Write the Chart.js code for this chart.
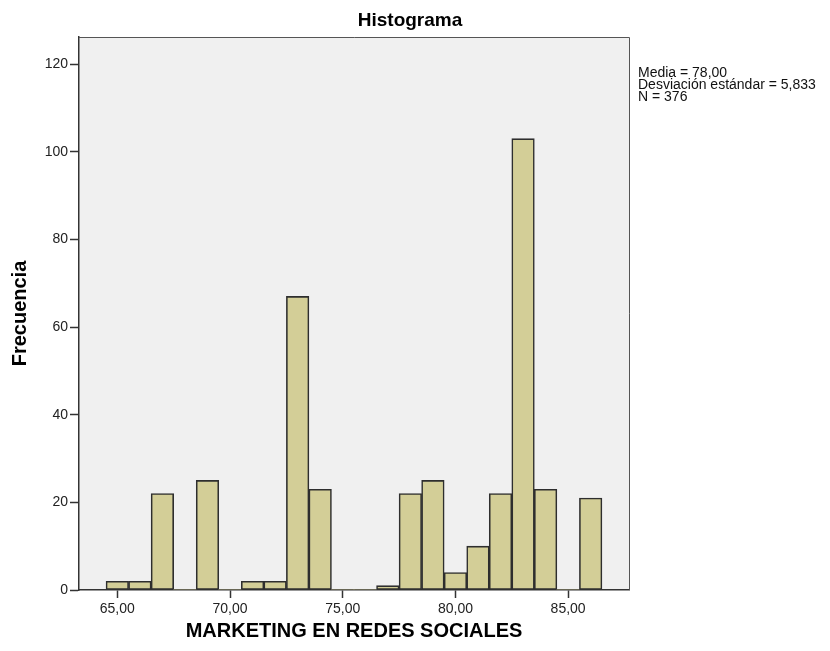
<!DOCTYPE html>
<html>
<head>
<meta charset="utf-8">
<script src="https://cdn.jsdelivr.net/npm/chart.js@4.4.1/dist/chart.umd.min.js"></script>
<style>
  body { margin: 0; background: #fff; }
  canvas { display: block; }
</style>
</head>
<body>
<canvas id="histChart" width="830" height="651"></canvas>
<script>
// bins (centre of each 1-point bin) and frequencies
var bins = [65, 66, 67, 68, 69, 70, 71, 72, 73, 74, 75, 76, 77, 78, 79, 80, 81, 82, 83, 84, 85, 86];
var counts = [2, 2, 22, 0, 25, 0, 2, 2, 67, 23, 0, 0, 1, 22, 25, 4, 10, 22, 103, 23, 0, 21];
var xTicks = [65, 70, 75, 80, 85];
var yTicks = [0, 20, 40, 60, 80, 100, 120];
var statsLines = ["Media = 78,00", "Desviación estándar = 5,833", "N = 376"];

var points = bins.map(function (b, i) { return { x: b, y: counts[i] }; });

var frame = {
    id: 'frame',
    beforeDraw: function (chart) {
        var a = chart.chartArea, ctx = chart.ctx;
        ctx.save();
        ctx.fillStyle = '#f0f0f0';
        ctx.fillRect(a.left, a.top, a.right - a.left, a.bottom - a.top);
        ctx.restore();
    },
    afterDraw: function (chart) {
        var a = chart.chartArea, ctx = chart.ctx;
        ctx.save();
        ctx.strokeStyle = '#555';
        ctx.lineWidth = 1;
        ctx.beginPath();
        ctx.moveTo(a.left, a.top + 0.5);
        ctx.lineTo(a.right + 0.5, a.top + 0.5);
        ctx.lineTo(a.right + 0.5, a.bottom);
        ctx.stroke();
        // title
        ctx.fillStyle = '#000';
        ctx.font = 'bold 19px "Liberation Sans", Arial, sans-serif';
        ctx.textAlign = 'center';
        ctx.textBaseline = 'alphabetic';
        ctx.fillText('Histograma', 410, 26);
        // stats box on the right
        ctx.font = '14px "Liberation Sans", Arial, sans-serif';
        ctx.textAlign = 'left';
        ctx.fillStyle = '#111';
        statsLines.forEach(function (t, i) {
            ctx.fillText(t, 638, 77 + i * 12);
        });
        ctx.restore();
    }
};

var ctx = document.getElementById("histChart").getContext("2d");
var histChart = new Chart(ctx, {
    type: 'bar',
    data: {
        datasets: [{
            data: points,
            backgroundColor: '#d3ce97',
            borderColor: '#2e2e2e',
            borderWidth: function (c) { return c.raw && c.raw.y > 0 ? 1.6 : 0; },
            borderSkipped: false,
            barPercentage: 1,
            categoryPercentage: 1
        }]
    },
    options: {
        responsive: false,
        animation: false,
        devicePixelRatio: 1,
        layout: {
            padding: { top: 37, right: 201, left: 0, bottom: 0 }
        },
        plugins: {
            legend: { display: false },
            title: { display: false },
            tooltip: { enabled: false }
        },
        scales: {
            x: {
                type: 'linear',
                min: 63.3,
                max: 87.7,
                offset: false,
                afterBuildTicks: function (s) { s.ticks = xTicks.map(function (v) { return { value: v }; }); },
                afterFit: function (s) { s.height = 61; },
                ticks: {
                    color: '#222',
                    font: { family: '"Liberation Sans", Arial, sans-serif', size: 14 },
                    padding: 3,
                    maxRotation: 0,
                    callback: function (v) { return v.toFixed(2).replace('.', ','); }
                },
                grid: { offset: false, drawOnChartArea: false, drawTicks: true, tickLength: 8, color: '#333', tickWidth: 1.5 },
                border: { display: true, color: '#333', width: 1.5 },
                title: {
                    display: true,
                    text: 'MARKETING EN REDES SOCIALES',
                    color: '#000',
                    font: { family: '"Liberation Sans", Arial, sans-serif', size: 20, weight: 'bold' },
                    padding: { top: 0, bottom: 8 }
                }
            },
            y: {
                min: 0,
                max: 126.2,
                afterBuildTicks: function (s) { s.ticks = yTicks.map(function (v) { return { value: v }; }); },
                afterFit: function (s) { s.width = 79; },
                ticks: {
                    color: '#222',
                    font: { family: '"Liberation Sans", Arial, sans-serif', size: 14 },
                    padding: 2
                },
                grid: { drawOnChartArea: false, drawTicks: true, tickLength: 9, color: '#333', tickWidth: 1.5 },
                border: { display: true, color: '#333', width: 1.5 },
                title: {
                    display: true,
                    text: 'Frecuencia',
                    color: '#000',
                    font: { family: '"Liberation Sans", Arial, sans-serif', size: 20, weight: 'bold' },
                    padding: { top: 8, bottom: 0 }
                }
            }
        }
    },
    plugins: [frame]
});
</script>
</body>
</html>
